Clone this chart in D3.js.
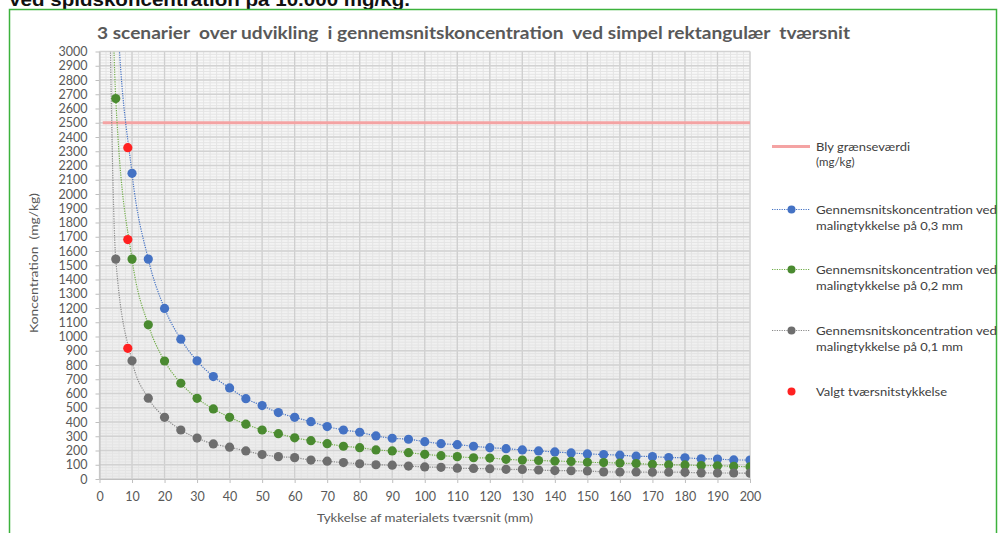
<!DOCTYPE html>
<html>
<head>
<meta charset="utf-8">
<script src="https://cdn.jsdelivr.net/npm/d3@7"></script>
<style>
  body { margin: 0; background: #fff; }
  text { font-family: Lato, "Open Sans", sans-serif; white-space: pre; }
</style>
</head>
<body>
<svg id="chart" width="999" height="533"></svg>
<script>
// Material thickness (mm) along the x axis
const thickness = [0, 5, 10, 15, 20, 25, 30, 35, 40, 45, 50, 55, 60, 65, 70, 75, 80, 85, 90, 95, 100,
  105, 110, 115, 120, 125, 130, 135, 140, 145, 150, 155, 160, 165, 170, 175, 180, 185, 190, 195, 200];

// Average concentration (mg/kg) for paint thickness 0.3 mm
const conc03 = [10000, 3520, 2145, 1543, 1197, 981, 829, 719, 639, 564, 515, 466, 433, 402, 368, 344, 328,
  302, 286, 279, 262, 248, 241, 230, 220, 213, 204, 197, 190, 183, 176, 172, 167, 160, 157, 151, 149, 142, 140, 134, 133];
// Average concentration (mg/kg) for paint thickness 0.2 mm
const conc02 = [10000, 2670, 1543, 1082, 828, 672, 566, 492, 433, 385, 344, 318, 289, 269, 248, 230, 220,
  204, 197, 185, 173, 164, 157, 149, 147, 138, 133, 130, 126, 123, 117, 115, 112, 108, 103, 100, 99, 94, 93, 89, 86];
// Average concentration (mg/kg) for paint thickness 0.1 mm
const conc01 = [10000, 1543, 829, 567, 433, 344, 287, 246, 223, 197, 172, 157, 150, 133, 125, 115, 107,
  100, 97, 91, 85, 82, 76, 74, 72, 68, 67, 63, 59, 58, 56, 50, 49, 49, 48, 48, 47, 43, 42, 42, 41];

// Chosen cross-section thickness and the resulting concentrations
const chosenThickness = [8.7, 8.7, 8.7];
const chosenConc = [2325, 1680, 917];

// Lead limit value (mg/kg)
const limitThickness = [1, 200];
const limitConc = [2500, 2500];

// Axis ticks
const xTickValues = d3.range(0, 201, 10);
const yTickValues = d3.range(0, 3001, 100);
const xMinorValues = d3.range(0, 201, 2);
const yMinorValues = d3.range(0, 3001, 20);

const titleText = "3 scenarier  over udvikling  i gennemsnitskoncentration  ved simpel rektangulær  tværsnit";
const headingText = "Ved spidskoncentration på 10.000 mg/kg.";
const yTitle = "Koncentration  (mg/kg)";
const xTitle = "Tykkelse af materialets tværsnit (mm)";

const seriesList = [
  { name: ["Gennemsnitskoncentration ved", "malingtykkelse på 0,3 mm"], values: conc03, dot: "#4472c4", line: "#4472c4" },
  { name: ["Gennemsnitskoncentration ved", "malingtykkelse på 0,2 mm"], values: conc02, dot: "#4a8a30", line: "#70ad47" },
  { name: ["Gennemsnitskoncentration ved", "malingtykkelse på 0,1 mm"], values: conc01, dot: "#6e6e6e", line: "#8a8a8a" }
];

const svg = d3.select("#chart");
const plotLeft = 99.5, plotRight = 750, plotTop = 51.5, plotBottom = 479;

const x = d3.scaleLinear().domain([0, 200]).range([plotLeft, plotRight]);
const y = d3.scaleLinear().domain([0, 3000]).range([plotBottom, plotTop]);

// Page heading, partly above the visible area
svg.append("text")
  .attr("x", 8).attr("y", 6)
  .attr("textLength", 402).attr("lengthAdjust", "spacingAndGlyphs")
  .style("font-family", "'Liberation Sans', Arial, sans-serif")
  .style("font-weight", "bold").style("font-size", "19px")
  .attr("fill", "#111")
  .text(headingText);

// Frame around the chart
svg.append("rect")
  .attr("x", 9.5).attr("y", 9.5).attr("width", 987).attr("height", 540)
  .attr("fill", "#fff").attr("stroke", "#3cb23c").attr("stroke-width", 1.5);

// Plot background
const defs = svg.append("defs");
const grad = defs.append("linearGradient").attr("id", "bg").attr("x1", 0).attr("y1", 0).attr("x2", 0).attr("y2", 1);
grad.append("stop").attr("offset", "0%").attr("stop-color", "#f8f8f8");
grad.append("stop").attr("offset", "100%").attr("stop-color", "#ececec");
defs.append("clipPath").attr("id", "plotclip")
  .append("rect").attr("x", plotLeft).attr("y", plotTop)
  .attr("width", plotRight - plotLeft).attr("height", plotBottom - plotTop);

svg.append("rect")
  .attr("x", plotLeft).attr("y", plotTop)
  .attr("width", plotRight - plotLeft).attr("height", plotBottom - plotTop)
  .attr("fill", "url(#bg)");

// Minor gridlines
const grid = svg.append("g");
grid.selectAll(".vminor").data(xMinorValues).join("line")
  .attr("x1", d => x(d)).attr("x2", d => x(d)).attr("y1", plotTop).attr("y2", plotBottom)
  .attr("stroke", "#e4e4e4").attr("stroke-width", 1);
grid.selectAll(".hminor").data(yMinorValues).join("line")
  .attr("x1", plotLeft).attr("x2", plotRight).attr("y1", d => y(d)).attr("y2", d => y(d))
  .attr("stroke", "#e4e4e4").attr("stroke-width", 1);
// Major gridlines
grid.selectAll(".vmajor").data(xTickValues).join("line")
  .attr("x1", d => x(d)).attr("x2", d => x(d)).attr("y1", plotTop).attr("y2", plotBottom)
  .attr("stroke", "#cfcfcf").attr("stroke-width", 1.3);
grid.selectAll(".hmajor").data(yTickValues).join("line")
  .attr("x1", plotLeft).attr("x2", plotRight).attr("y1", d => y(d)).attr("y2", d => y(d))
  .attr("stroke", "#d2d2d2").attr("stroke-width", 1.3);

// Axes
const yAxis = svg.append("g").attr("transform", `translate(${plotLeft},0)`)
  .call(d3.axisLeft(y).tickValues(yTickValues).tickFormat(d3.format("d"))
    .tickSize(4).tickPadding(8).tickSizeOuter(0));
const xAxis = svg.append("g").attr("transform", `translate(0,${plotBottom})`)
  .call(d3.axisBottom(x).tickValues(xTickValues).tickFormat(d3.format("d"))
    .tickSize(4).tickPadding(9).tickSizeOuter(0));
[xAxis, yAxis].forEach(a => {
  a.select(".domain").attr("stroke", "#bfbfbf");
  a.selectAll(".tick line").attr("stroke", "#bfbfbf");
  a.selectAll(".tick text").attr("fill", "#595959").style("font-size", "12.5px")
    .style("font-family", "Lato, sans-serif");
});

// Limit line
const plot = svg.append("g").attr("clip-path", "url(#plotclip)");
plot.append("path")
  .datum(limitThickness.map((t, i) => [t, limitConc[i]]))
  .attr("d", d3.line().x(d => x(d[0])).y(d => y(d[1])))
  .attr("stroke", "#f4a3a3").attr("stroke-width", 3).attr("fill", "none");

// Smoothed dotted lines
const smooth = d3.line().curve(d3.curveMonotoneX).x(d => x(d[0])).y(d => y(d[1]));
seriesList.forEach(s => {
  plot.append("path")
    .datum(thickness.map((t, i) => [t, s.values[i]]))
    .attr("d", smooth)
    .attr("fill", "none").attr("stroke", s.line).attr("stroke-width", 1.2)
    .attr("stroke-dasharray", "1.2,1.2");
});
// Markers
seriesList.forEach(s => {
  plot.selectAll(null)
    .data(thickness.map((t, i) => [t, s.values[i]]))
    .join("circle")
    .attr("cx", d => x(d[0])).attr("cy", d => y(d[1])).attr("r", 4.6)
    .attr("fill", s.dot);
});
plot.selectAll(null)
  .data(chosenThickness.map((t, i) => [t, chosenConc[i]]))
  .join("circle")
  .attr("cx", d => x(d[0])).attr("cy", d => y(d[1])).attr("r", 4.6)
  .attr("fill", "#ff2121");

// Chart title
svg.append("text")
  .attr("x", 97).attr("y", 39)
  .attr("textLength", 753).attr("lengthAdjust", "spacingAndGlyphs")
  .attr("fill", "#595959").style("font-size", "17px").style("font-weight", "bold")
  .text(titleText);

// Axis titles
svg.append("text")
  .attr("transform", "translate(38,263) rotate(-90)")
  .attr("text-anchor", "middle")
  .attr("textLength", 140).attr("lengthAdjust", "spacingAndGlyphs")
  .attr("fill", "#595959").style("font-size", "11.5px")
  .text(yTitle);
svg.append("text")
  .attr("x", 425).attr("y", 522).attr("text-anchor", "middle")
  .attr("textLength", 216).attr("lengthAdjust", "spacingAndGlyphs")
  .attr("fill", "#595959").style("font-size", "11.5px")
  .text(xTitle);

// Legend
const legend = svg.append("g");
const lx1 = 772, lx2 = 810, ltx = 816;
legend.append("line").attr("x1", lx1).attr("x2", lx2).attr("y1", 146.5).attr("y2", 146.5)
  .attr("stroke", "#f4a3a3").attr("stroke-width", 3);
legend.append("text").attr("x", ltx).attr("y", 151).attr("fill", "#404040").style("font-size", "11.5px")
  .attr("textLength", 94).attr("lengthAdjust", "spacingAndGlyphs").text("Bly grænseværdi");
legend.append("text").attr("x", ltx).attr("y", 166).attr("fill", "#404040").style("font-size", "11.5px")
  .text("(mg/kg)");

const legendRows = [209.5, 269.5, 330.5];
seriesList.forEach((s, i) => {
  const cy = legendRows[i];
  legend.append("line").attr("x1", lx1).attr("x2", lx2).attr("y1", cy).attr("y2", cy)
    .attr("stroke", s.line).attr("stroke-width", 1.2).attr("stroke-dasharray", "1.2,1.2");
  legend.append("circle").attr("cx", 791.5).attr("cy", cy).attr("r", 4).attr("fill", s.dot);
  legend.append("text").attr("x", ltx).attr("y", cy + 4.5).attr("fill", "#404040").style("font-size", "12px")
    .attr("textLength", 181).attr("lengthAdjust", "spacingAndGlyphs").text(s.name[0]);
  legend.append("text").attr("x", ltx).attr("y", cy + 20).attr("fill", "#404040").style("font-size", "12px")
    .attr("textLength", 147).attr("lengthAdjust", "spacingAndGlyphs").text(s.name[1]);
});
legend.append("circle").attr("cx", 791.5).attr("cy", 391.5).attr("r", 4).attr("fill", "#ff2121");
legend.append("text").attr("x", ltx).attr("y", 396).attr("fill", "#404040").style("font-size", "12px")
  .attr("textLength", 131).attr("lengthAdjust", "spacingAndGlyphs").text("Valgt tværsnitstykkelse");
</script>
</body>
</html>
